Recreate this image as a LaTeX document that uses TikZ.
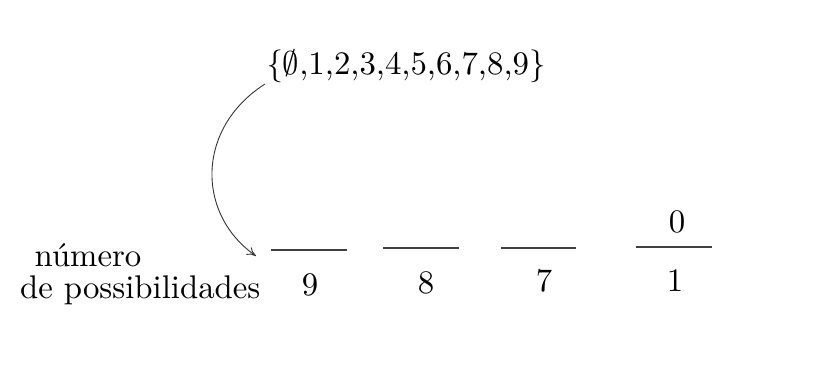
\documentclass[tikz,border=0pt]{standalone}
\usepackage{graphicx}
\usetikzlibrary{arrows.meta}
\newcommand{\bigtxt}[1]{\scalebox{3.28}{#1}}
\begin{document}
\begin{tikzpicture}[x=1pt,y=-1pt,
  txt/.style={inner sep=0pt},
  slot/.style={line width=1.3pt,draw=black!75},
  conn/.style={line width=0.9pt,draw=black!80,-{To[length=9pt,width=9pt]}}]
\useasboundingbox (0,0) rectangle (833,379);
% set
\node[txt,anchor=base] (set) at (406,75) {\bigtxt{\{$\emptyset$,1,2,3,4,5,6,7,8,9\}}};
% label
\node[txt,anchor=base] (num) at (88,267) {\bigtxt{número}};
\node[txt,anchor=base west] (poss) at (20,299) {\bigtxt{de possibilidades}};
% slots
\coordinate (s1a) at (271,250); \coordinate (s1b) at (347,250);
\coordinate (s2a) at (383,248); \coordinate (s2b) at (459,248);
\coordinate (s3a) at (501,248); \coordinate (s3b) at (576,248);
\coordinate (s4a) at (636,247); \coordinate (s4b) at (712,247);
\draw[slot] (s1a) -- (s1b);
\draw[slot] (s2a) -- (s2b);
\draw[slot] (s3a) -- (s3b);
\draw[slot] (s4a) -- (s4b);
% numbers
\node[txt,anchor=base] (n9) at (310,296) {\bigtxt{9}};
\node[txt,anchor=base] (n8) at (426,294) {\bigtxt{8}};
\node[txt,anchor=base] (n7) at (544,292) {\bigtxt{7}};
\node[txt,anchor=base] (n1) at (675,292) {\bigtxt{1}};
\node[txt,anchor=base] (n0) at (677,233) {\bigtxt{0}};
% arrow
\coordinate (astart) at (265,84);
\coordinate (aend) at (256,256);
\draw[conn] (astart) .. controls (196,128) and (196,214) .. (aend);
\end{tikzpicture}
\end{document}
